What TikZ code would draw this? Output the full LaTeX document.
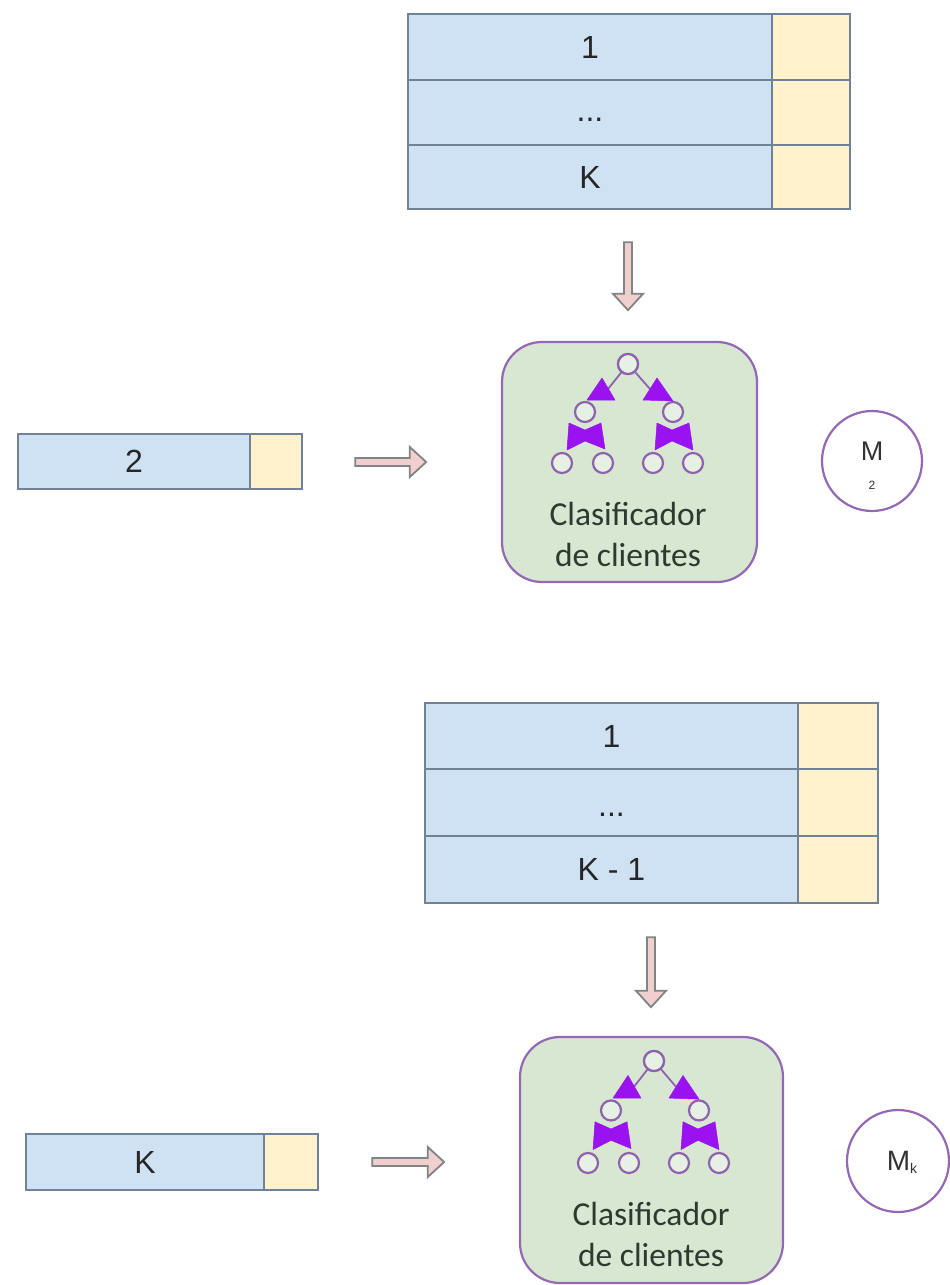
\documentclass[tikz,border=0pt]{standalone}
\usepackage{fontspec}
\setmainfont{Liberation Sans}
\newfontfamily\boxfont{Carlito}
\usetikzlibrary{shapes.arrows}
\definecolor{cellblue}{HTML}{CFE2F3}
\definecolor{cellyellow}{HTML}{FFF2CC}
\definecolor{cellline}{HTML}{6F8296}
\definecolor{boxgreen}{HTML}{D7E7D1}
\definecolor{boxline}{HTML}{9468B4}
\definecolor{treepurple}{HTML}{9A12F0}
\definecolor{treeline}{HTML}{8E62AE}
\definecolor{arrowpink}{HTML}{F2CFCF}
\definecolor{arrowline}{HTML}{7F8486}
\definecolor{darktext}{HTML}{2C3A30}
\newcommand{\lowdots}[1]{\smash{\raisebox{#1}{...}}}
\tikzset{
  x=1pt,y=-1pt,
  bluecell/.style={draw=cellline,line width=1.6pt,fill=cellblue,inner sep=0pt,font=\fontsize{32}{34}\selectfont,text=black!85},
  yellowcell/.style={draw=cellline,line width=1.6pt,fill=cellyellow,inner sep=0pt},
  clasbox/.style={draw=boxline,line width=2.2pt,fill=boxgreen,rounded corners=40pt,inner sep=0pt},
  boxtext/.style={font=\boxfont\fontsize{33.5}{41}\selectfont,text=darktext,align=center,inner sep=0pt},
  modelcircle/.style={draw=boxline,line width=2.2pt,fill=white,circle,inner sep=0pt,minimum size=100pt,align=center},
  blockarrow/.style={single arrow,draw=arrowline,line width=1.8pt,fill=arrowpink,inner sep=0pt,
    minimum width=30pt,single arrow head extend=2.5pt,single arrow head indent=0pt,single arrow tip angle=85},
  treenode/.style={circle,draw=treeline,line width=2.2pt,fill=boxgreen!60!white,inner sep=0pt,minimum size=20pt},
  treeedge/.style={draw=treeline,line width=1.8pt},
  treehead/.style={fill=treepurple,draw=treepurple,line width=.5pt,line join=round},
  clastree/.pic={
    \node[treenode] (-root) at (0,0) {};
    \node[treenode] (-l) at (-43,48) {};
    \node[treenode] (-r) at (45,48) {};
    \node[treenode] (-ll) at (-66,99) {};
    \node[treenode] (-lr) at (-25,99) {};
    \node[treenode] (-rl) at (25,99) {};
    \node[treenode] (-rr) at (65,99) {};
    \coordinate (-le) at (-20,25);
    \coordinate (-re) at (22,25);
    \path[treeedge] (-root) -- (-le) (-root) -- (-re);
    \node[treenode] at (0,0) {};
    \path[treehead] (-26,14) -- (-41,36) -- (-13,36) -- cycle;
    \path[treehead] (29,14) -- (15,36) -- (45,37) -- cycle;
    \path[treehead] (-59,59) -- (-43,66) -- (-27,59) -- (-23,85) -- (-43,77) -- (-61,86) -- cycle;
    \path[treehead] (29,59) -- (44,66) -- (61,59) -- (65,86) -- (44,77) -- (27,86) -- cycle;
  }
}
\begin{document}
\begin{tikzpicture}
\useasboundingbox (0,0) rectangle (950,1285);
% upper table
\node[bluecell,minimum width=364pt,minimum height=66pt] (a1) at (590,47) {1};
\node[bluecell,minimum width=364pt,minimum height=65pt] (a2) at (590,112.5) {\lowdots{-9pt}};
\node[bluecell,minimum width=364pt,minimum height=64pt] (a3) at (590,177) {K};
\node[yellowcell,minimum width=78pt,minimum height=66pt] (ay1) at (811,47) {};
\node[yellowcell,minimum width=78pt,minimum height=65pt] (ay2) at (811,112.5) {};
\node[yellowcell,minimum width=78pt,minimum height=64pt] (ay3) at (811,177) {};
\node[blockarrow,rotate=-90,minimum height=68pt] (aa) at (628,274) {};
% upper row
\node[bluecell,minimum width=232pt,minimum height=55pt] (b1) at (134,461.5) {2};
\node[yellowcell,minimum width=52pt,minimum height=55pt] (by) at (276,461.5) {};
\node[blockarrow,minimum height=71pt] (ba) at (388.5,462) {};
\node[clasbox,minimum width=255pt,minimum height=240pt] (c1) at (629.5,462) {};
\pic (t1) at (628,364) {clastree};
\node[boxtext] (c1t) at (628,534) {Clasificador\\de clientes};
\node[modelcircle] (m1) at (872,461) {};
\node[inner sep=0pt,font=\fontsize{27}{29}\selectfont,text=black!80] (m1a) at (872,451) {M};
\node[inner sep=0pt,font=\fontsize{12}{14}\selectfont,text=black!80] (m1b) at (872,485) {2};
% lower table
\node[bluecell,minimum width=373pt,minimum height=66pt] (d1) at (611.5,736) {1};
\node[bluecell,minimum width=373pt,minimum height=67pt] (d2) at (611.5,802.5) {\lowdots{-14pt}};
\node[bluecell,minimum width=373pt,minimum height=67pt] (d3) at (611.5,869.5) {K - 1};
\node[yellowcell,minimum width=80pt,minimum height=66pt] (dy1) at (838,736) {};
\node[yellowcell,minimum width=80pt,minimum height=67pt] (dy2) at (838,802.5) {};
\node[yellowcell,minimum width=80pt,minimum height=67pt] (dy3) at (838,869.5) {};
\node[blockarrow,rotate=-90,minimum height=70pt] (da) at (651,970) {};
% lower row
\node[bluecell,minimum width=238pt,minimum height=56pt] (e1) at (145,1162) {K};
\node[yellowcell,minimum width=54pt,minimum height=56pt] (ey) at (291,1162) {};
\node[blockarrow,minimum height=72pt] (ea) at (406,1162) {};
\node[clasbox,minimum width=263pt,minimum height=246pt] (c2) at (651.5,1160) {};
\pic[yscale=1.03] (t2) at (654,1061) {clastree};
\node[boxtext] (c2t) at (651,1234) {Clasificador\\de clientes};
\node[modelcircle,minimum size=102pt] (m2) at (898,1161) {};
\node[inner sep=0pt,font=\fontsize{28}{30}\selectfont,text=black!80] (m2a) at (902,1162) {M\raisebox{-3pt}{\fontsize{14}{16}\selectfont k}};
\end{tikzpicture}
\end{document}
